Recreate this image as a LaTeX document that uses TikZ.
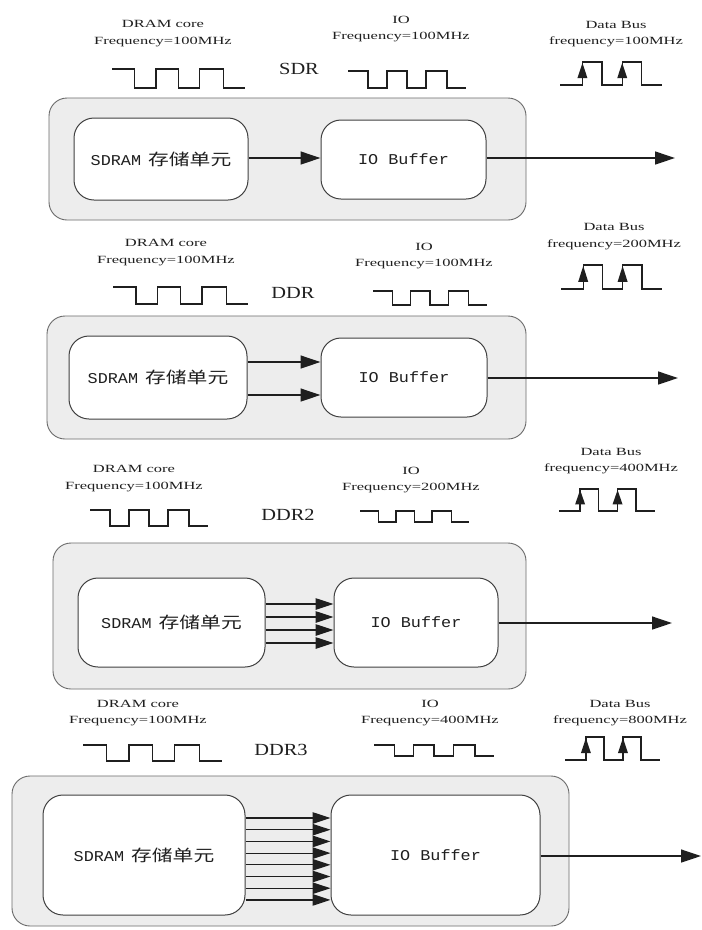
\documentclass[tikz,border=0pt]{standalone}
\usepackage{fontspec}
\usepackage{graphicx}
\setmainfont{Liberation Serif}
\newfontfamily\monofont{Liberation Mono}
\newfontfamily\cjkfont{Noto Sans CJK SC}
\usetikzlibrary{arrows.meta,calc}

\definecolor{shell}{gray}{0.93}
\definecolor{edge}{gray}{0.42}
\definecolor{ink}{gray}{0.12}

% wide text, as the labels are set
\newcommand\wide[1]{\scalebox{1.5}[1]{#1}}
\newcommand\corelabel{{\fontsize{15}{18}\selectfont\scalebox{1.12}[1]{\monofont SDRAM}\hspace{7pt}\scalebox{1.3}[1]{\fontsize{16}{18}\selectfont\cjkfont 存储单元}}}
\newcommand\buflabel{\scalebox{1.12}[1]{\fontsize{15}{18}\selectfont\monofont IO Buffer}}

% clock: high, low, high, low, high, low  (x0, x1, y high, y low)
\newcommand\clockwave[4]{%
  \pgfmathsetmacro\cwa{#1+0.17*(#2-#1)}%
  \pgfmathsetmacro\cwb{#1+0.33*(#2-#1)}%
  \pgfmathsetmacro\cwc{#1+0.50*(#2-#1)}%
  \pgfmathsetmacro\cwd{#1+0.66*(#2-#1)}%
  \pgfmathsetmacro\cwe{#1+0.84*(#2-#1)}%
  \draw[clockline] (#1,#3) -- (\cwa,#3) -- (\cwa,#4) -- (\cwb,#4) -- (\cwb,#3)
    -- (\cwc,#3) -- (\cwc,#4) -- (\cwd,#4) -- (\cwd,#3) -- (\cwe,#3) -- (\cwe,#4) -- (#2,#4);
}
% bus clock with the rising edges marked  (x0, x1, y high, y low)
\newcommand\buswave[4]{%
  \pgfmathsetmacro\bwa{#1+0.22*(#2-#1)}%
  \pgfmathsetmacro\bwb{#1+0.41*(#2-#1)}%
  \pgfmathsetmacro\bwc{#1+0.61*(#2-#1)}%
  \pgfmathsetmacro\bwd{#1+0.80*(#2-#1)}%
  \pgfmathsetmacro\bwt{#3+1}%
  \pgfmathsetmacro\bwm{#3+0.70*(#4-#3)}%
  \draw[clockline] (#1,#4) -- (\bwa,#4) -- (\bwa,#3) -- (\bwb,#3) -- (\bwb,#4)
    -- (\bwc,#4) -- (\bwc,#3) -- (\bwd,#3) -- (\bwd,#4) -- (#2,#4);
  \fill[ink] (\bwa-5,\bwm) -- (\bwa,\bwt) -- (\bwa+5,\bwm) -- cycle;
  \fill[ink] (\bwc-5,\bwm) -- (\bwc,\bwt) -- (\bwc+5,\bwm) -- cycle;
}

\tikzset{
  clockline/.style={draw=ink, line width=1.4pt, line join=miter},
  shellbox/.style={draw=edge, fill=shell, line width=0.9pt, rounded corners=18pt, inner sep=0pt},
  unitbox/.style={draw=ink!85, fill=white, line width=1pt, rounded corners=20pt, inner sep=0pt, text=ink},
  freqtext/.style={align=center, font=\fontsize{11}{16.5}\selectfont, text=ink, inner sep=0pt},
  gentext/.style={font=\fontsize{17}{20}\selectfont, text=ink, inner sep=0pt},
  dataarrow/.style={draw=ink, line width=1.3pt, -{Triangle[length=20pt,width=13pt]}},
  lanearrow/.style={draw=ink, line width=1.2pt, -{Triangle[length=18pt,width=11.5pt]}},
}

\begin{document}
\begin{tikzpicture}[x=1pt,y=-1pt]
\useasboundingbox[fill=white] (0,0) rectangle (702,930);

% ---------------- SDR ----------------
\node[freqtext] (f1a) at (163,33.5) {\wide{DRAM core}\\\wide{Frequency=100MHz}};
\node[freqtext] (f1b) at (401,29) {\wide{IO}\\\wide{Frequency=100MHz}};
\node[freqtext] (f1c) at (616,34) {\wide{Data Bus}\\\wide{frequency=100MHz}};
\node[gentext] (g1) at (299,69) {\scalebox{1.2}[1]{SDR}};
\clockwave{112}{245}{69}{88}
\clockwave{348}{466}{71}{88}
\buswave{560}{662}{62}{85}
\node[shellbox, minimum width=477, minimum height=122] (sys1) at (287.5,159) {};
\node[unitbox, minimum width=174, minimum height=82] (core1) at (161,159) {\corelabel};
\node[unitbox, minimum width=165, minimum height=79] (buf1) at (403.5,159.5) {\buflabel};
\draw[dataarrow] (core1.east |- 0,158) -- (buf1.west |- 0,158);
\coordinate (out1) at (675,158);
\draw[dataarrow] (buf1.east |- out1) -- (out1);

% ---------------- DDR ----------------
\node[freqtext] (f2a) at (166,252.5) {\wide{DRAM core}\\\wide{Frequency=100MHz}};
\node[freqtext] (f2b) at (424,256) {\wide{IO}\\\wide{Frequency=100MHz}};
\node[freqtext] (f2c) at (614,236.5) {\wide{Data Bus}\\\wide{frequency=200MHz}};
\node[gentext] (g2) at (293,293) {\scalebox{1.2}[1]{DDR}};
\clockwave{113}{248}{287}{304}
\clockwave{373}{487}{291}{305}
\buswave{561}{662}{265}{289}
\node[shellbox, minimum width=479, minimum height=123] (sys2) at (286.5,377.5) {};
\node[unitbox, minimum width=178, minimum height=83] (core2) at (158,377.5) {\corelabel};
\node[unitbox, minimum width=166, minimum height=79] (buf2) at (404,377.5) {\buflabel};
\foreach \yy in {362,395}
  \draw[dataarrow] (core2.east |- 0,\yy) -- (buf2.west |- 0,\yy);
\coordinate (out2) at (678,378);
\draw[dataarrow] (buf2.east |- out2) -- (out2);

% ---------------- DDR2 ----------------
\node[freqtext] (f3a) at (134,478.5) {\wide{DRAM core}\\\wide{Frequency=100MHz}};
\node[freqtext] (f3b) at (411,480) {\wide{IO}\\\wide{Frequency=200MHz}};
\node[freqtext] (f3c) at (611,461) {\wide{Data Bus}\\\wide{frequency=400MHz}};
\node[gentext] (g3) at (288,515) {\scalebox{1.2}[1]{DDR2}};
\clockwave{90}{208}{510}{526}
\clockwave{360}{469}{511}{522}
\buswave{559}{655}{489}{511}
\node[shellbox, minimum width=473, minimum height=146] (sys3) at (289.5,616) {};
\node[unitbox, minimum width=187, minimum height=89] (core3) at (171.5,622.5) {\corelabel};
\node[unitbox, minimum width=164, minimum height=89] (buf3) at (416,622.5) {\buflabel};
\foreach \yy in {604,617,630,643}
  \draw[lanearrow] (core3.east |- 0,\yy) -- (buf3.west |- 0,\yy);
\coordinate (out3) at (672,623);
\draw[dataarrow] (buf3.east |- out3) -- (out3);

% ---------------- DDR3 ----------------
\node[freqtext] (f4a) at (138,713) {\wide{DRAM core}\\\wide{Frequency=100MHz}};
\node[freqtext] (f4b) at (430,713) {\wide{IO}\\\wide{Frequency=400MHz}};
\node[freqtext] (f4c) at (620,713) {\wide{Data Bus}\\\wide{frequency=800MHz}};
\node[gentext] (g4) at (281,750) {\scalebox{1.2}[1]{DDR3}};
\clockwave{83}{222}{745}{761}
\clockwave{374}{494}{745}{756}
\buswave{565}{660}{737}{760}
\node[shellbox, minimum width=557, minimum height=150] (sys4) at (290.5,851) {};
\node[unitbox, minimum width=202, minimum height=120] (core4) at (144,855) {\corelabel};
\node[unitbox, minimum width=209, minimum height=120] (buf4) at (435.5,855) {\buflabel};
\foreach \i in {0,...,7}{
  \pgfmathsetmacro\yy{818+11.7*\i}
  \draw[lanearrow] (core4.east |- 0,\yy) -- (buf4.west |- 0,\yy);
}
\coordinate (out4) at (701,856);
\draw[dataarrow] (buf4.east |- out4) -- (out4);
\end{tikzpicture}
\end{document}
